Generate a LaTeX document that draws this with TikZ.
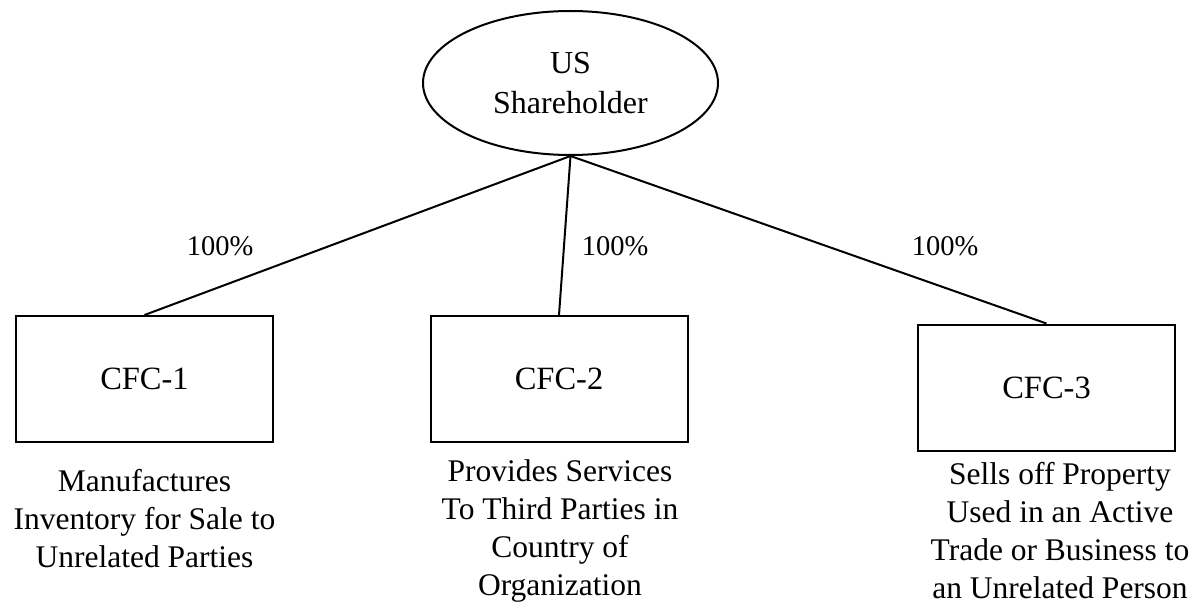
\documentclass[tikz,border=0pt]{standalone}
\usepackage{fontspec}
\setmainfont{Liberation Serif}
\usetikzlibrary{shapes.geometric}
\tikzset{
  ent/.style={draw, line width=2pt, ellipse, minimum width=295pt, minimum height=144pt, inner sep=0pt, align=center, font=\fontsize{32}{40}\selectfont},
  cfc/.style={draw, line width=2pt, rectangle, minimum width=257pt, minimum height=126pt, inner sep=0pt, font=\fontsize{32.5}{38}\selectfont},
  pct/.style={anchor=base, inner sep=0pt, font=\fontsize{28.5}{34}\selectfont},
  desc/.style={anchor=base, inner sep=0pt, align=center, font=\fontsize{31.5}{38}\selectfont},
  link/.style={line width=2pt}
}
\begin{document}
\begin{tikzpicture}[x=1pt,y=-1pt]
\useasboundingbox (0,0) rectangle (1191,604);
\node[ent] (us) at (570.5,83) {US\\Shareholder};
\node[cfc] (c1) at (144.5,379) {CFC-1};
\node[cfc] (c2) at (559,379) {CFC-2};
\node[cfc] (c3) at (1046.5,387.5) {CFC-3};
\draw[link] (us.south) -- (c1.north);
\draw[link] (us.south) -- (c2.north);
\draw[link] (us.south) -- (c3.north);
\node[pct] (p1) at (220,255) {100\%};
\node[pct] (p2) at (615,255) {100\%};
\node[pct] (p3) at (945,255) {100\%};
\node[desc] (d1) at (144.5,567) {Manufactures\\Inventory for Sale to\\Unrelated Parties};
\node[desc] (d2) at (560,595) {Provides Services\\To Third Parties in\\Country of\\Organization};
\node[desc] (d3) at (1060,598) {Sells off Property\\Used in an Active\\Trade or Business to\\an Unrelated Person};
\end{tikzpicture}
\end{document}
